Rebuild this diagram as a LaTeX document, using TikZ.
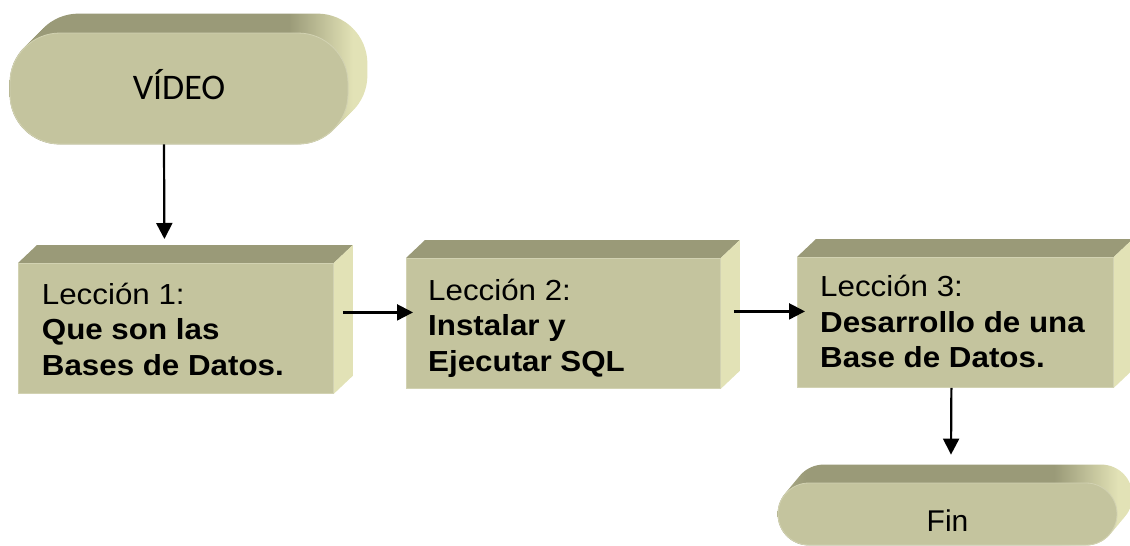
\documentclass[tikz,border=0pt]{standalone}
\usepackage{fontspec}
\setmainfont{Liberation Sans}
\newfontfamily\lesfont[FakeStretch=1.08]{Liberation Sans}
\newfontfamily\calfont{Carlito}
\usetikzlibrary{arrows.meta,calc,backgrounds}
\definecolor{frontc}{HTML}{C4C49E}
\definecolor{topc}{HTML}{9A9A78}
\definecolor{sidec}{HTML}{E2E2B6}
\definecolor{topl}{HTML}{ACAC88}
\definecolor{edgec}{HTML}{D2D2B2}
\pgfdeclarehorizontalshading{extr}{100bp}{color(0bp)=(topl); color(25bp)=(topl); color(29bp)=(topc); color(64bp)=(topc); color(73bp)=(sidec); color(100bp)=(sidec)}
\begin{document}
\begin{tikzpicture}[x=1pt,y=-1pt,
  front/.style={fill=frontc, draw=edgec, line width=0.8pt, inner sep=0pt},
  lesson/.style={front, minimum width=315pt, minimum height=130pt, anchor=north west},
  ltext/.style={inner sep=0pt, anchor=base west, font=\lesfont\fontsize{29}{35.5}\selectfont},
  arr/.style={line width=2.2pt, -{Triangle[length=16pt,width=16pt]}}]
\useasboundingbox (0,0) rectangle (1130,546);

% front faces
\node[front, rounded corners=50pt, minimum width=338pt, minimum height=111pt,
      font=\calfont\fontsize{36}{40}\selectfont, text height=21pt, text depth=0pt] (v) at (179,88.5) {VÍDEO};
\node[lesson] (l1) at (18,263) {};
\node[lesson, minimum width=314pt] (l2) at (406,258) {};
\node[lesson, minimum width=316pt] (l3) at (797,257) {};
\node[front, rounded corners=31pt, minimum width=339pt, minimum height=62pt,
      font=\fontsize{30}{36}\selectfont, text height=34pt, text depth=0pt] (fin) at (947.5,514) {Fin};

% 3D faces
\begin{pgfonlayer}{background}
  \path[shade, shading=extr, rounded corners=50pt]
    \foreach \i in {0,...,19} { ([shift={(\i pt,\i pt)}]v.south west) rectangle ([shift={(\i pt,\i pt)}]v.north east) };
  \path[shade, shading=extr, rounded corners=31pt]
    \foreach \i in {0,...,18} { ([shift={({\i*0.833pt},{\i pt})}]fin.south west) rectangle ([shift={({\i*0.833pt},{\i pt})}]fin.north east) };
  \foreach \b in {l1,l2,l3} {
    \fill[topc] (\b.north west) -- ++(19pt,18pt) -- ($(\b.north east)+(19pt,18pt)$) -- (\b.north east) -- cycle;
    \fill[sidec] (\b.north east) -- ++(19pt,18pt) -- ($(\b.south east)+(19pt,18pt)$) -- (\b.south east) -- cycle;
  }
\end{pgfonlayer}

% texts
\node[ltext] (t1) at ([shift={(23.7pt,-41pt)}]l1.north west)
  {\begin{tabular}[t]{@{}l@{}}Lección 1:\\\textbf{Que son las}\\\textbf{Bases de Datos.}\end{tabular}};
\node[ltext] (t2) at ([shift={(22pt,-42pt)}]l2.north west)
  {\begin{tabular}[t]{@{}l@{}}Lección 2:\\\textbf{Instalar y}\\\textbf{Ejecutar SQL}\end{tabular}};
\node[ltext] (t3) at ([shift={(23pt,-39.5pt)}]l3.north west)
  {\begin{tabular}[t]{@{}l@{}}Lección 3:\\\textbf{Desarrollo de una}\\\textbf{Base de Datos.}\end{tabular}};

% connectors
\draw[arr] ([xshift=-15pt]v.south) -- ([xshift=-11.5pt,yshift=24pt]l1.north);
\coordinate (a1) at ([xshift=9pt,yshift=16pt]l1.east);
\draw[arr, shorten >=-7pt] (a1) -- (a1 -| l2.west);
\coordinate (a2) at ([xshift=13pt,yshift=12pt]l2.east);
\draw[arr, shorten >=-8pt] (a2) -- (a2 -| l3.west);
\draw[arr] ([xshift=-4pt]l3.south) -- ([xshift=3.5pt,yshift=28pt]fin.north);
\end{tikzpicture}
\end{document}
